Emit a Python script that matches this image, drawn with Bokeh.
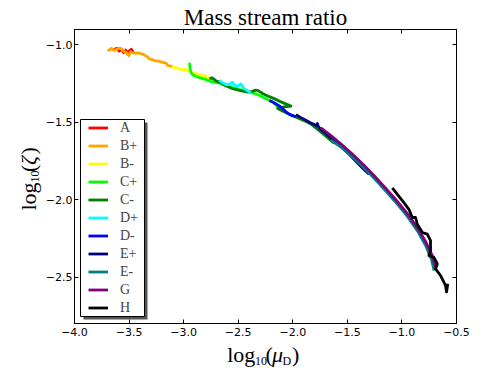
import math
from bokeh.plotting import figure
from bokeh.layouts import row, column
from bokeh.models import Range1d, LinearAxis, FixedTicker, Legend, LegendItem, Label, BoxAnnotation, Title
from bokeh.embed import file_html
from bokeh.resources import INLINE

X_START, X_END = -4.0, -0.5
Y_START, Y_END = -2.8, -0.9
X_TICKS = [-4.0, -3.5, -3.0, -2.5, -2.0, -1.5, -1.0, -0.5]
X_TICK_LABELS = ["\u22124.0", "\u22123.5", "\u22123.0", "\u22122.5", "\u22122.0", "\u22121.5", "\u22121.0", "\u22120.5"]
Y_TICKS = [-2.5, -2.0, -1.5, -1.0]
Y_TICK_LABELS = ["\u22122.5", "\u22122.0", "\u22121.5", "\u22121.0"]
TITLE = "Mass stream ratio"

SERIES = ["A", "B+", "B-", "C+", "C-", "D+", "D-", "E+", "E-", "G", "H"]
COLORS = ["red", "orange", "yellow", "lime", "green", "cyan", "blue", "navy", "teal", "purple", "black"]

a_x = [-3.64, -3.61, -3.59, -3.57, -3.55, -3.53, -3.51, -3.50, -3.48, -3.46]
a_y = [-1.030, -1.022, -1.040, -1.026, -1.050, -1.033, -1.062, -1.040, -1.028, -1.048]

bp_x = [-3.698, -3.675, -3.662, -3.640, -3.616, -3.590, -3.571, -3.550, -3.525, -3.500, -3.490, -3.460, -3.418,
        -3.390, -3.360, -3.330, -3.315, -3.290, -3.269, -3.230, -3.189, -3.160, -3.144, -3.120, -3.098]
bp_y = [-1.037, -1.030, -1.022, -1.035, -1.030, -1.020, -1.026, -1.040, -1.050, -1.069, -1.045, -1.052, -1.051,
        -1.056, -1.064, -1.078, -1.090, -1.094, -1.101, -1.104, -1.112, -1.118, -1.133, -1.136, -1.144]

bm_x = [-3.110, -3.080, -3.060, -3.035, -3.013, -2.985, -2.961, -2.940, -2.910, -2.885, -2.860, -2.839, -2.810, -2.790, -2.764]
bm_y = [-1.140, -1.146, -1.148, -1.155, -1.160, -1.156, -1.165, -1.172, -1.182, -1.186, -1.192, -1.195, -1.200, -1.206, -1.210]

cp_x = [-2.946, -2.943, -2.938, -2.931, -2.910, -2.880, -2.839, -2.800, -2.778, -2.750, -2.721, -2.700, -2.672,
        -2.611, -2.550, -2.492, -2.447, -2.383, -2.320, -2.250, -2.180, -2.139, -2.110, -2.081]
cp_y = [-1.115, -1.135, -1.160, -1.180, -1.196, -1.205, -1.214, -1.222, -1.229, -1.235, -1.240, -1.243, -1.247,
        -1.262, -1.276, -1.286, -1.296, -1.306, -1.322, -1.345, -1.372, -1.400, -1.412, -1.421]

cm_x = [-2.764, -2.740, -2.720, -2.700, -2.672, -2.620, -2.550, -2.480, -2.413, -2.370, -2.340, -2.321, -2.273,
        -2.215, -2.160, -2.108, -2.060, -2.017, -2.080, -2.139, -2.090, -2.040, -1.990, -1.926, -1.880, -1.834,
        -1.804, -1.760, -1.713, -1.670, -1.621]
cm_y = [-1.218, -1.212, -1.222, -1.234, -1.240, -1.262, -1.283, -1.295, -1.304, -1.300, -1.292, -1.293, -1.315,
        -1.334, -1.350, -1.368, -1.382, -1.395, -1.400, -1.410, -1.428, -1.445, -1.460, -1.480, -1.494, -1.510,
        -1.528, -1.552, -1.580, -1.606, -1.635]

dp_x = [-2.672, -2.640, -2.600, -2.575, -2.555, -2.530, -2.500, -2.475, -2.455, -2.430, -2.405, -2.383]
dp_y = [-1.229, -1.246, -1.258, -1.252, -1.240, -1.262, -1.264, -1.252, -1.275, -1.288, -1.300, -1.311]

dm_x = [-2.215, -2.190, -2.160, -2.120, -2.080, -2.050, -2.020, -1.990, -1.971]
dm_y = [-1.360, -1.366, -1.378, -1.395, -1.420, -1.440, -1.452, -1.460, -1.464]

ep_x = [-1.971, -1.930, -1.880, -1.834, -1.800, -1.785, -1.775, -1.765, -1.743, -1.700, -1.650, -1.600, -1.560,
        -1.500, -1.450, -1.407, -1.350, -1.301]
ep_y = [-1.450, -1.468, -1.487, -1.504, -1.515, -1.522, -1.508, -1.528, -1.547, -1.572, -1.603, -1.632, -1.656,
        -1.695, -1.730, -1.763, -1.803, -1.835]

em_x = [-1.650, -1.550, -1.450, -1.350, -1.250, -1.150, -1.050, -0.950, -0.850, -0.780, -0.730, -0.705]
em_y = [-1.615, -1.665, -1.725, -1.792, -1.865, -1.942, -2.022, -2.108, -2.210, -2.300, -2.385, -2.458]

g_x = [-1.743, -1.650, -1.550, -1.450, -1.350, -1.250, -1.150, -1.050, -0.950, -0.850, -0.780, -0.720, -0.690]
g_y = [-1.535, -1.585, -1.645, -1.708, -1.775, -1.848, -1.925, -2.005, -2.090, -2.190, -2.275, -2.365, -2.440]

h_x = [-1.088, -1.042, -0.982, -0.936, -0.905, -0.875, -0.859, -0.813, -0.768, -0.738, -0.738, -0.753, -0.707,
       -0.676, -0.692, -0.646, -0.601, -0.591, -0.580]
h_y = [-1.923, -1.966, -2.019, -2.062, -2.115, -2.115, -2.158, -2.212, -2.222, -2.265, -2.329, -2.362, -2.372,
       -2.415, -2.447, -2.490, -2.554, -2.596, -2.543]

DATA = [(a_x, a_y), (bp_x, bp_y), (bm_x, bm_y), (cp_x, cp_y), (cm_x, cm_y), (dp_x, dp_y),
        (dm_x, dm_y), (ep_x, ep_y), (em_x, em_y), (g_x, g_y), (h_x, h_y)]

SERIF = "Liberation Serif"
SANS = "DejaVu Sans"

# ---- main plot ----
p = figure(width=449, height=342, x_range=Range1d(X_START, X_END), y_range=Range1d(Y_START, Y_END),
           output_backend="svg", toolbar_location=None, title=None,
           min_border_left=31, min_border_right=35, min_border_top=29, min_border_bottom=19)
p.grid.visible = False
p.outline_line_color = "black"
p.background_fill_color = "white"
p.border_fill_color = "white"

def style_axis(ax, ticks, labels, show):
    ax.ticker = FixedTicker(ticks=ticks)
    ax.major_tick_in = 4
    ax.major_tick_out = 0
    ax.minor_tick_line_color = None
    ax.axis_line_color = "black"
    ax.major_tick_line_color = "black"
    ax.axis_label = None
    if show:
        ax.major_label_overrides = {t: l for t, l in zip(ticks, labels)}
        ax.major_label_text_font = SANS
        ax.major_label_text_font_size = "11px"
        ax.major_label_text_color = "black"
    else:
        ax.major_label_overrides = {t: "" for t in ticks}
        ax.major_label_text_font_size = "0px"
        ax.major_label_standoff = 0

style_axis(p.xaxis[0], X_TICKS, X_TICK_LABELS, True)
style_axis(p.yaxis[0], Y_TICKS, Y_TICK_LABELS, True)
p.xaxis[0].major_label_standoff = 4
p.yaxis[0].major_label_standoff = 2

top_ax = LinearAxis()
style_axis(top_ax, X_TICKS, X_TICK_LABELS, False)
p.add_layout(top_ax, "above")
right_ax = LinearAxis()
style_axis(right_ax, Y_TICKS, Y_TICK_LABELS, False)
p.add_layout(right_ax, "right")

p.add_layout(Title(text=TITLE, align="center", text_font=SERIF, text_font_size="23px",
                   text_font_style="normal", text_color="black", standoff=0, offset=0), "above")

renderers = []
for (xs, ys), c in zip(DATA, COLORS):
    r = p.line(xs, ys, line_color=c, line_width=2.8, line_join="round")
    renderers.append(r)

# legend frame (shadow + box), screen units relative to the plot frame
def screen_box(left, right, bottom, top, **kw):
    return BoxAnnotation(left=left, right=right, bottom=bottom, top=top,
                         left_units="screen", right_units="screen", bottom_units="screen", top_units="screen", **kw)

p.add_layout(screen_box(9, 73, 4, 201, fill_color="#555555", fill_alpha=1.0, line_alpha=0))
p.add_layout(screen_box(6, 70, 7, 204, fill_color="white", fill_alpha=1.0, line_color="black", line_width=1, line_alpha=1))

legend = Legend(items=[LegendItem(label=s, renderers=[r]) for s, r in zip(SERIES, renderers)],
                location=(6, -1), orientation="vertical",
                label_text_font=SERIF, label_text_font_size="14px",
                glyph_width=20, glyph_height=17, label_height=17, label_standoff=12,
                spacing=1, padding=8, margin=0,
                border_line_alpha=0, background_fill_alpha=0.0)
p.add_layout(legend)

# ---- strips holding the axis titles ----
def strip(w, h):
    f = figure(width=w, height=h, x_range=Range1d(0, 1), y_range=Range1d(0, 1),
               output_backend="svg", toolbar_location=None, title=None,
               x_axis_type=None, y_axis_type=None,
               min_border=0, min_border_left=0, min_border_right=0, min_border_top=0, min_border_bottom=0)
    f.outline_line_color = None
    f.background_fill_color = "white"
    f.border_fill_color = "white"
    return f

ylab = strip(42, 368)
xlab = strip(449, 26)

def add_text(fig, text, x, y, size, style="normal", angle=0.0):
    fig.add_layout(Label(x=x, y=y, x_units="canvas", y_units="canvas",
                         text=text, text_font=SERIF, text_font_size=size, text_font_style=style,
                         text_align="left", text_baseline="alphabetic", angle=angle, text_color="black"))

# x label: log10(mu_D)   (xlab canvas coordinates)
add_text(xlab, "log", 184.7, 12, "22px")
add_text(xlab, "10", 212.5, 18, "12px")
add_text(xlab, "(", 223, 12, "22px")
add_text(xlab, "\u03bc", 229.5, 12, "22px", style="italic")
add_text(xlab, "D", 240, 18, "12px")
add_text(xlab, ")", 249.5, 12, "22px")

# y label: log10(zeta), reading upwards
ang = math.pi / 2
add_text(ylab, "log", 28, 210, "22px", angle=ang)
add_text(ylab, "10", 34, 182, "12px", angle=ang)
add_text(ylab, "(", 28, 171.5, "22px", angle=ang)
add_text(ylab, "\u03b6", 28, 164.5, "22px", style="italic", angle=ang)
add_text(ylab, ")", 28, 154, "22px", angle=ang)

layout = row(ylab, column(p, xlab))
open("out.html", "w").write(file_html(layout, INLINE))
